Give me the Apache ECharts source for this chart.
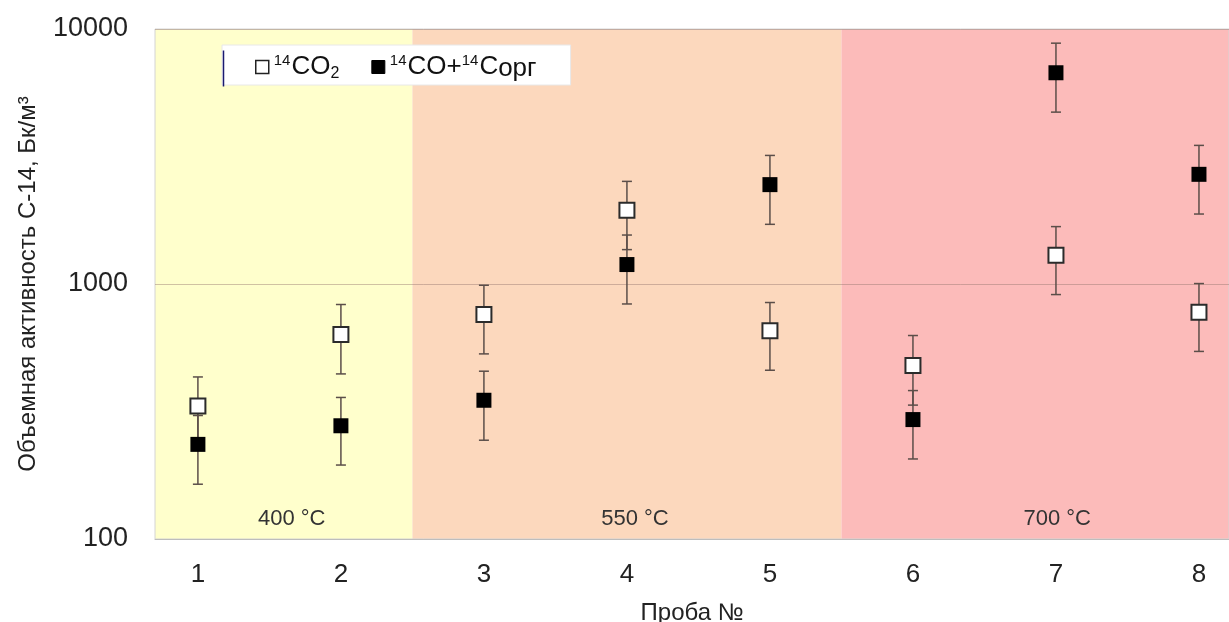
<!DOCTYPE html>
<html>
<head>
<meta charset="utf-8">
<script src="https://cdn.jsdelivr.net/npm/echarts@6/dist/echarts.min.js"></script>
<style>html,body{margin:0;padding:0;background:#fff;}#c{width:1229px;height:622px;}</style>
</head>
<body>
<div id="c"></div>
<script>
// ---- data ----
const samples = [1, 2, 3, 4, 5, 6, 7, 8];
const xTicks = [1, 2, 3, 4, 5, 6, 7, 8];
const yTicks = [100, 1000, 10000];
const co2 = [332, 634, 759, 1945, 655, 479, 1296, 775];
const co2Low = [233, 444, 532, 1364, 459, 335, 909, 544];
const co2High = [432, 831, 989, 2526, 846, 628, 1679, 1004];
const org = [235, 278, 350, 1192, 2453, 294, 6736, 2692];
const orgLow = [164, 195, 244, 835, 1714, 206, 4721, 1881];
const orgHigh = [305, 359, 455, 1556, 3193, 382, 8799, 3496];
const bandLabels = ['400 °C', '550 °C', '700 °C'];
const bandFrom = [0.7, 2.5, 5.5];
const bandTo = [2.5, 5.5, 8.21];

const bandColors = ['#FFFFCC', '#FCD8BD', '#FCBBBA'];
const bandOffsets = [8, 8, 22];
const FONT = 'Liberation Sans, Arial, sans-serif';

const chart = echarts.init(document.getElementById('c'));

function errorSeries(name, lo, hi) {
  return {
    type: 'custom',
    name: name + '_err',
    z: 2,
    silent: true,
    data: samples.map((s, i) => [s, lo[i], hi[i]]),
    renderItem: function (params, api) {
      const x = api.value(0);
      const p1 = api.coord([x, api.value(1)]);
      const p2 = api.coord([x, api.value(2)]);
      const w = 5;
      const st = { stroke: '#5b4e49', lineWidth: 1.5 };
      return {
        type: 'group',
        children: [
          { type: 'line', shape: { x1: p1[0], y1: p1[1], x2: p2[0], y2: p2[1] }, style: st },
          { type: 'line', shape: { x1: p1[0] - w, y1: p1[1], x2: p1[0] + w, y2: p1[1] }, style: st },
          { type: 'line', shape: { x1: p2[0] - w, y1: p2[1], x2: p2[0] + w, y2: p2[1] }, style: st }
        ]
      };
    }
  };
}

const richStyles = {
  n: { fontSize: 26, fontFamily: FONT, color: '#111', lineHeight: 30, verticalAlign: 'middle' },
  sup: { fontSize: 15, fontFamily: FONT, color: '#111', lineHeight: 30, verticalAlign: 'top', padding: [1, 1, 0, 0] },
  sub: { fontSize: 16, fontFamily: FONT, color: '#111', lineHeight: 30, verticalAlign: 'bottom' },
  low: { fontSize: 26, fontFamily: FONT, color: '#111', lineHeight: 30, verticalAlign: 'bottom', padding: [8, 0, 0, 0] }
};

const option = {
  animation: false,
  backgroundColor: '#ffffff',
  grid: { left: 155, right: 0, top: 29, height: 510, outerBoundsMode: 'none', containLabel: false, show: true, borderColor: '#d4d4d4', borderWidth: 1, backgroundColor: 'transparent' },
  legend: {
    left: 222, top: 45, width: 348, height: 40,
    backgroundColor: '#ffffff',
    borderColor: '#e8e8e8', borderWidth: 1,
    padding: [3, 34, 3, 33],
    itemGap: 32,
    itemWidth: 13, itemHeight: 13,
    icon: 'rect',
    data: [
      { name: 'co2', itemStyle: { color: '#ffffff', borderColor: '#222', borderWidth: 1.5 } },
      { name: 'org', itemStyle: { color: '#000000', borderColor: '#000', borderWidth: 1 } }
    ],
    formatter: function (name) {
      if (name === 'co2') return '{sup|14}{n|CO}{sub|2}';
      return '{sup|14}{n|CO+}{sup|14}{n|C}{low|орг}';
    },
    textStyle: { rich: richStyles, padding: [0, 0, 0, 0] }
  },
  graphic: [
    { type: 'line', left: 221, top: 48, shape: { x1: 0, y1: 0, x2: 0, y2: 36 }, style: { stroke: '#1a1a6e', lineWidth: 1.5 }, z: 100 }
  ],
  xAxis: {
    type: 'value',
    min: 0.7, max: 8.21,
    name: 'Проба №',
    nameLocation: 'middle',
    nameGap: 62,
    nameTextStyle: { fontSize: 24, color: '#222', fontFamily: FONT },
    axisLine: { show: true, lineStyle: { color: '#bdbdbd' } },
    axisTick: { show: false },
    splitLine: { show: false },
    axisLabel: { customValues: xTicks, fontSize: 26, color: '#222', margin: 23, fontFamily: FONT }
  },
  yAxis: {
    type: 'log',
    logBase: 10,
    min: yTicks[0], max: yTicks[yTicks.length - 1],
    name: 'Объемная активность С-14, Бк/м³',
    nameLocation: 'middle',
    nameGap: 115,
    nameTextStyle: { fontSize: 24, color: '#222', fontFamily: FONT },
    axisLine: { show: false },
    axisTick: { show: false },
    splitLine: { show: true, lineStyle: { color: 'rgba(150,120,110,0.45)', width: 1 } },
    axisLabel: { fontSize: 27, color: '#222', margin: 27, fontFamily: FONT, formatter: v => String(Math.round(v)) }
  },
  series: [
    {
      type: 'scatter',
      name: 'co2',
      z: 3,
      symbol: 'rect',
      symbolSize: 15,
      itemStyle: { color: '#ffffff', borderColor: '#2b2b2b', borderWidth: 2, opacity: 1 },
      data: samples.map((s, i) => [s, co2[i]]),
      markArea: {
        silent: true,
        z: -1,
        data: bandLabels.map((lab, i) => [
          {
            xAxis: bandFrom[i],
            itemStyle: { color: bandColors[i] },
            label: {
              show: true, formatter: lab, position: 'insideBottom', distance: 9,
              offset: [bandOffsets[i], 0],
              fontSize: 22, color: '#333', fontFamily: FONT
            }
          },
          { xAxis: bandTo[i] }
        ])
      }
    },
    {
      type: 'scatter',
      name: 'org',
      z: 4,
      symbol: 'rect',
      symbolSize: 15,
      itemStyle: { color: '#000000', opacity: 1 },
      data: samples.map((s, i) => [s, org[i]])
    },
    errorSeries('co2', co2Low, co2High),
    errorSeries('org', orgLow, orgHigh)
  ]
};
chart.setOption(option);
</script>
</body>
</html>
